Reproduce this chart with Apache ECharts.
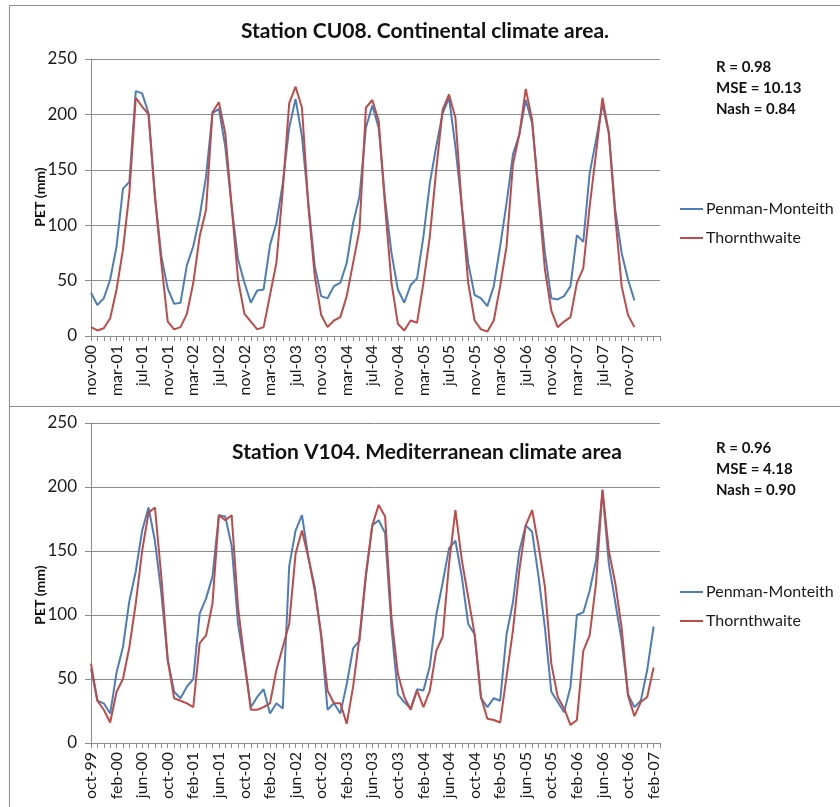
<!DOCTYPE html>
<html><head><meta charset="utf-8">
<script src="https://cdn.jsdelivr.net/npm/echarts@6/dist/echarts.min.js"></script>
<style>html,body{margin:0;padding:0;background:#fff}#c{width:840px;height:807px}</style>
</head><body><div id="c"></div>
<script>
// month abbreviations used for category labels
const monthAbbr = ['jan','feb','mar','apr','may','jun','jul','aug','sep','oct','nov','dec'];
function monthLabels(startMonth, startYear, count) {
  const out = [];
  for (let k = 0; k < count; k++) {
    const m = (startMonth + k) % 12;
    const y = (startYear + Math.floor((startMonth + k) / 12)) % 100;
    out.push(monthAbbr[m] + '-' + String(y).padStart(2, '0'));
  }
  return out;
}
// Top panel: Station CU08 (nov-00 ... dec-07, then empty rows)
const catTop = monthLabels(10, 2000, 86).concat(['', '', '', '']);
const pmTop = [39,28,34,51,81,133,139,221,219,201,
  126,72,43,29,30,64,81,108,144,201,
  205,171,117,69,48,30,41,42,82,102,
  138,188,214,180,120,63,36,34,45,48,
  66,102,126,188,208,188,123,75,42,30,
  46,52,90,138,171,201,215,171,117,66,
  37,34,27,45,81,120,164,182,213,192,
  132,75,34,33,36,45,91,85,147,177,
  209,183,114,75,51,32];
const thTop = [8,5,7,16,42,78,129,215,207,200,
  126,66,13,6,8,20,48,90,114,202,
  211,183,117,51,20,13,6,8,37,66,
  132,210,225,206,117,54,19,8,14,17,
  36,66,96,206,213,194,117,48,11,5,
  14,12,48,90,150,204,218,197,117,48,
  14,6,4,14,45,81,155,182,223,195,
  126,60,23,8,13,17,48,61,117,165,
  215,183,108,45,19,8];
// Bottom panel: Station V104 (oct-99 ...)
const catBot = monthLabels(9, 1999, 90);
const pmBot = [58,33,31,23,55,75,111,134,166,184,
  158,117,65,40,35,44,50,101,113,130,
  178,177,154,93,62,28,36,42,23,31,
  27,138,166,178,145,122,83,26,31,23,
  46,74,80,130,170,174,164,90,38,32,
  27,42,41,60,100,125,152,158,130,93,
  85,35,28,35,33,85,110,150,170,165,
  130,90,40,32,24,44,100,102,119,143,
  197,140,110,80,38,28,33,57,91];
const thBot = [62,33,26,16,40,50,75,109,150,180,
  184,130,65,35,33,31,28,78,84,109,
  178,174,178,106,65,26,26,28,31,57,
  75,93,148,166,145,119,85,41,31,31,
  15,44,83,132,170,186,177,98,54,36,
  26,41,28,41,72,83,140,182,143,114,
  85,36,19,18,16,52,88,135,170,182,
  154,122,62,36,27,14,18,72,84,125,
  198,150,125,90,37,21,32,36,59];
const yTicks = {min: 0, max: 250, interval: 50};
const seriesNames = ['Penman-Monteith', 'Thornthwaite'];
const statsTop = ['R = 0.98', 'MSE = 10.13', 'Nash = 0.84'];
const statsBot = ['R = 0.96', 'MSE = 4.18', 'Nash = 0.90'];
const titleTop = 'Station CU08. Continental climate area.';
const titleBot = 'Station V104. Mediterranean climate area';

const BLUE = '#4a7ebb', RED = '#be4b48', GRID = '#8c8c8c', TXT = '#1a1a1a';
const FONT = 'Lato, "Open Sans", sans-serif';

function xAxis(idx, cats) {
  return {
    type: 'category', gridIndex: idx, data: cats, boundaryGap: false,
    axisLine: {lineStyle: {color: GRID, width: 1}},
    axisTick: {show: true, interval: 0, length: 5, lineStyle: {color: GRID}},
    axisLabel: {interval: 3, rotate: 90, margin: 9, color: TXT, fontSize: 16, fontFamily: FONT},
    splitLine: {show: false}
  };
}
function yAxis(idx) {
  return {
    type: 'value', gridIndex: idx, min: yTicks.min, max: yTicks.max, interval: yTicks.interval,
    axisLine: {show: true, lineStyle: {color: GRID}},
    axisTick: {show: true, length: 6, lineStyle: {color: GRID}},
    axisLabel: {margin: 14, color: TXT, fontSize: 17, fontFamily: FONT},
    splitLine: {lineStyle: {color: GRID, width: 1}}
  };
}
function line(name, data, color, idx) {
  return {
    name, type: 'line', data, xAxisIndex: idx, yAxisIndex: idx,
    showSymbol: false, symbol: 'none', smooth: false,
    lineStyle: {color, width: 2}, itemStyle: {color}, z: name === seriesNames[1] ? 3 : 2,
    animation: false
  };
}
function statsText(lines, x, y) {
  return lines.map((t, i) => ({
    type: 'text', left: x, top: y + i * 21,
    style: {text: t, font: 'bold 15px ' + FONT, fill: '#111'}
  }));
}
function legend(top) {
  return {
    left: 680, top, orient: 'vertical', itemGap: 13, itemWidth: 23, itemHeight: 2, padding: 0,
    icon: 'rect', data: seriesNames, selectedMode: false,
    textStyle: {fontSize: 16, fontFamily: FONT, color: TXT, padding: [0, 0, 0, -2]}
  };
}
const chart = echarts.init(document.getElementById('c'), null, {renderer: 'canvas'});
chart.setOption({
  animation: false,
  backgroundColor: '#fff',
  grid: [
    {left: 91, top: 59, width: 569, height: 277},
    {left: 91, top: 423, width: 569, height: 320}
  ],
  xAxis: [xAxis(0, catTop), xAxis(1, catBot)],
  yAxis: [yAxis(0), yAxis(1)],
  legend: [legend(201), legend(584)],
  series: [
    line(seriesNames[0], pmTop, BLUE, 0),
    line(seriesNames[1], thTop, RED, 0),
    line(seriesNames[0], pmBot, BLUE, 1),
    line(seriesNames[1], thBot, RED, 1)
  ],
  graphic: [
    {type: 'line', shape: {x1: 9.5, y1: 5.5, x2: 840, y2: 5.5}, style: {stroke: GRID, lineWidth: 1}},
    {type: 'line', shape: {x1: 9.5, y1: 5.5, x2: 9.5, y2: 807}, style: {stroke: GRID, lineWidth: 1}},
    {type: 'line', shape: {x1: 9.5, y1: 406.5, x2: 840, y2: 406.5}, style: {stroke: GRID, lineWidth: 1}},
    {type: 'text', x: 425, y: 31, style: {text: titleTop, font: 'bold 21px ' + FONT, fill: '#111', align: 'center', verticalAlign: 'middle'}},
    {type: 'text', x: 427, y: 452, style: {text: titleBot, font: 'bold 21px ' + FONT, fill: '#111', align: 'center', verticalAlign: 'middle'}},
    {type: 'text', x: 40, y: 197, rotation: Math.PI / 2, style: {text: 'PET (mm)', font: 'bold 14px ' + FONT, fill: '#111', align: 'center', verticalAlign: 'middle'}},
    {type: 'text', x: 40, y: 595, rotation: Math.PI / 2, style: {text: 'PET (mm)', font: 'bold 14px ' + FONT, fill: '#111', align: 'center', verticalAlign: 'middle'}},
    ...statsText(statsTop, 716, 60),
    ...statsText(statsBot, 716, 441)
  ]
});
</script>
</body></html>
